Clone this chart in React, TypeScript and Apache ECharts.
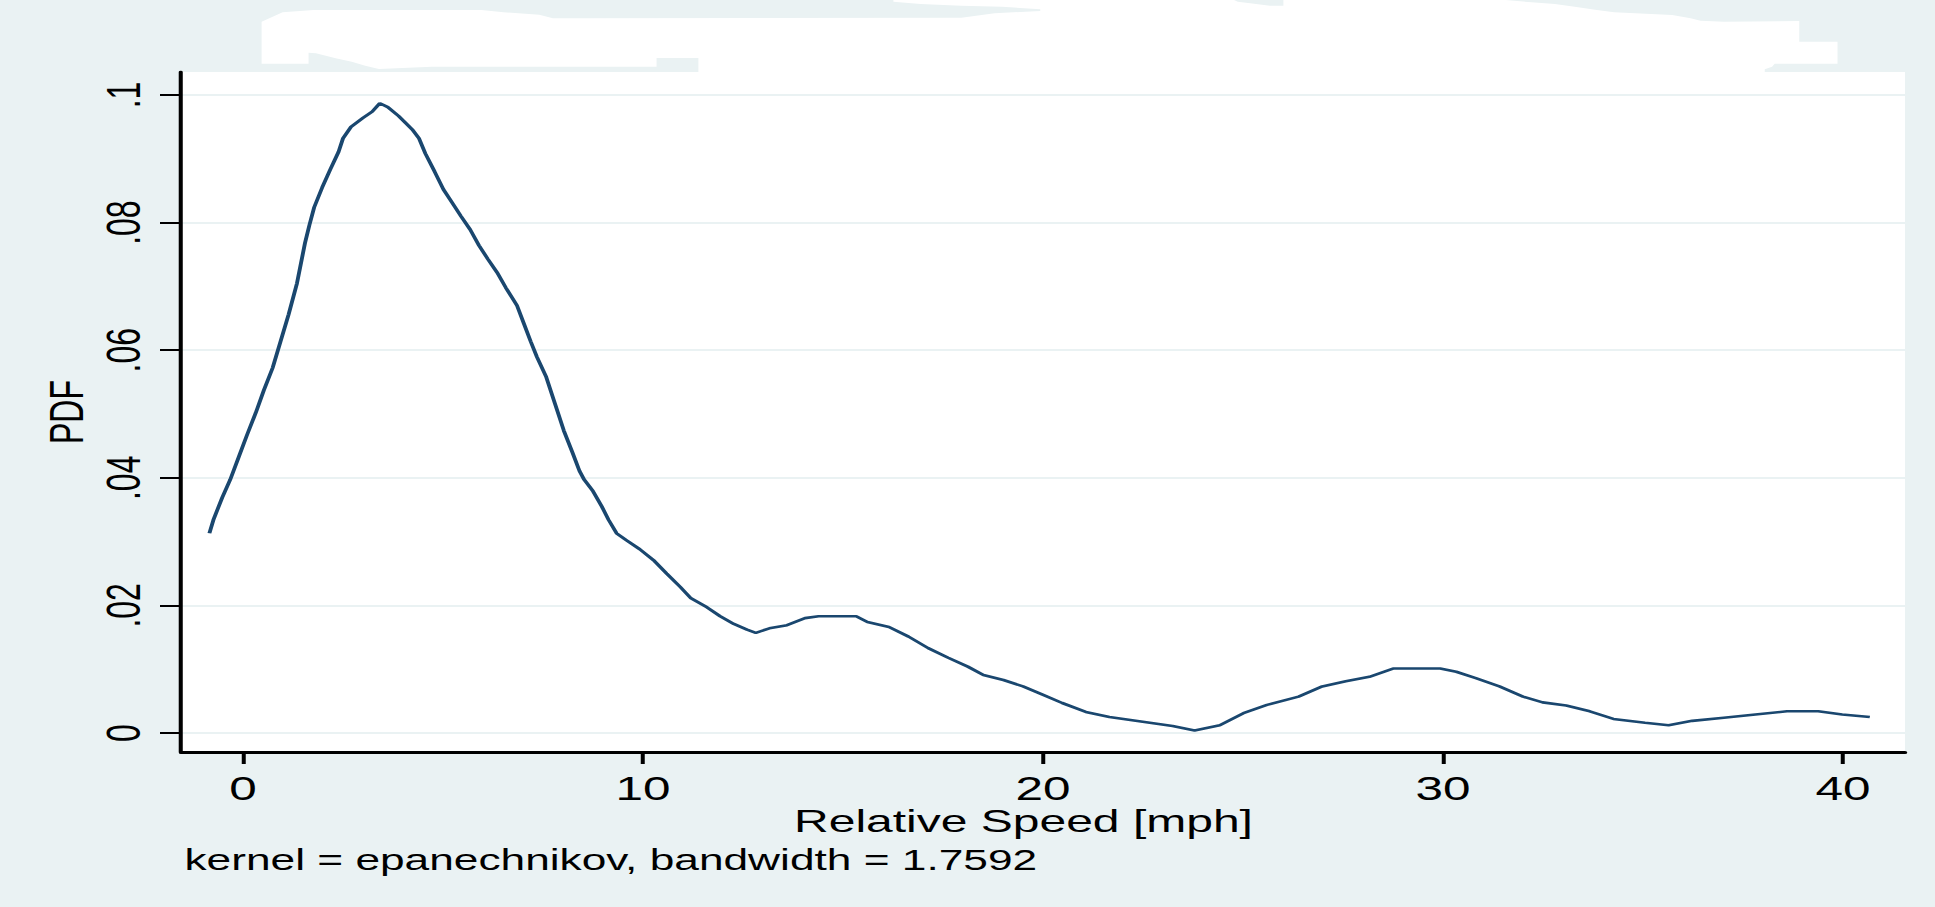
import React, { useEffect, useRef } from 'react';
import * as echarts from 'echarts';

// ---- data ----
const SPEED = [-0.84, -0.74, -0.52, -0.32, -0.11, 0.10, 0.32, 0.52, 0.74, 0.94, 1.14, 1.35, 1.55, 1.66, 1.78, 1.98, 2.18, 2.39, 2.50, 2.70, 3.00, 3.23, 3.42, 3.62, 3.89, 4.23, 4.40, 4.56, 4.79, 5.01, 5.23, 5.45, 5.68, 5.90, 6.12, 6.35, 6.57, 6.85, 7.02, 7.19, 7.35, 7.58, 7.80, 8.02, 8.24, 8.41, 8.53, 8.75, 8.97, 9.14, 9.34, 9.59, 9.92, 10.26, 10.59, 10.93, 11.20, 11.60, 11.93, 12.27, 12.60, 12.82, 13.16, 13.60, 14.05, 14.39, 15.33, 15.61, 16.15, 16.64, 17.13, 17.63, 18.12, 18.51, 19.01, 19.50, 19.99, 20.48, 21.07, 21.66, 22.45, 23.24, 23.79, 24.42, 25.01, 25.60, 26.39, 26.98, 27.57, 28.16, 28.75, 29.93, 30.33, 30.82, 31.41, 32.00, 32.49, 33.08, 33.67, 34.26, 35.05, 35.64, 36.23, 37.02, 37.81, 38.60, 39.38, 39.98, 40.67];
const PDF_VALUES = [0.0313, 0.0334, 0.0369, 0.0397, 0.0432, 0.0467, 0.0502, 0.0537, 0.0572, 0.0614, 0.0656, 0.0705, 0.0768, 0.0796, 0.0824, 0.0855, 0.0883, 0.0911, 0.0932, 0.0950, 0.0964, 0.0974, 0.0987, 0.0981, 0.0967, 0.0946, 0.0932, 0.0908, 0.0880, 0.0852, 0.0831, 0.0810, 0.0789, 0.0764, 0.0743, 0.0722, 0.0698, 0.0670, 0.0642, 0.0614, 0.0589, 0.0558, 0.0516, 0.0474, 0.0439, 0.0411, 0.0397, 0.0379, 0.0355, 0.0334, 0.0313, 0.0302, 0.0288, 0.0271, 0.0250, 0.0229, 0.0211, 0.0197, 0.0183, 0.0171, 0.0162, 0.0157, 0.0164, 0.0169, 0.0180, 0.0183, 0.0183, 0.0174, 0.0166, 0.0151, 0.0133, 0.0118, 0.0104, 0.0091, 0.0083, 0.0073, 0.0060, 0.0047, 0.0033, 0.0025, 0.0018, 0.0011, 0.0004, 0.0012, 0.0031, 0.0044, 0.0057, 0.0073, 0.0081, 0.0088, 0.0101, 0.0101, 0.0096, 0.0086, 0.0073, 0.0057, 0.0048, 0.0043, 0.0034, 0.0022, 0.0016, 0.0012, 0.0019, 0.0024, 0.0029, 0.0034, 0.0034, 0.0029, 0.0025];
const X_TICKS = [0, 10, 20, 30, 40];
const Y_TICKS = [0, 0.02, 0.04, 0.06, 0.08, 0.1];
const X_TITLE = 'Relative Speed [mph]';
const Y_TITLE = 'PDF';
const NOTE = 'kernel = epanechnikov, bandwidth = 1.7592';

// ---- layout / style ----
const K = 1.5; // horizontal stretch of the reference
const W = 1935;
const H = 907;
const CW = W / K;
const BG = '#EAF2F3';
const LINE = '#1A476F';
const FONT = '"Liberation Sans", Arial, sans-serif';

// erased-title white patch (decoration), chart coordinates
const PATCH: number[][] = [
  [174.4, 63.7], [174.4, 21.7], [188.4, 12.3], [209.0, 10], [320.9, 10], [335.7, 12.3], [359.5, 14.7], [368.6, 18.3],
  [387.5, 18.3], [640.9, 17.7], [663.1, 13.3], [693.5, 11], [693.5, 9.3], [668.0, 6.7], [640.9, 5.7], [613.7, 4],
  [595.6, 1.7], [595.6, 0], [822.7, 0], [825.2, 1.7], [833.4, 3.3], [846.6, 5.7], [855.6, 5.7], [855.6, 0],
  [1003.7, 0], [1021.0, 2.3], [1036.6, 4], [1049.8, 6.7], [1064.6, 10], [1076.1, 12.3], [1114.8, 15], [1127.1, 18.3],
  [1133.7, 20.7], [1149.3, 21.7], [1199.5, 21], [1199.5, 41.7], [1225.0, 41.7], [1225.0, 63.7], [1183.1, 63.7],
  [1181.4, 66.7], [1176.5, 69.3], [1176.5, 73], [465.6, 73], [465.6, 58], [437.7, 58], [437.7, 66.7], [287.9, 66.7],
  [252.6, 69], [243.5, 65.7], [234.5, 61.7], [223.8, 58.3], [210.6, 53.3], [205.7, 52.7], [205.7, 63.7],
];

const fmtY = (v: number) => (v === 0 ? '0' : String(+v.toFixed(2)).replace(/^0/, ''));

export default function App() {
  const ref = useRef<HTMLDivElement>(null);
  useEffect(() => {
    document.body.style.margin = '0';
    document.body.style.background = BG;
    document.body.style.overflow = 'hidden';
    const chart = echarts.init(ref.current!, null, { renderer: 'svg', width: CW, height: H });
    chart.setOption({
      animation: false,
      backgroundColor: BG,
      grid: {
        left: 181 / K,
        right: CW - 1905 / K,
        top: 72,
        bottom: H - 752,
        show: true,
        backgroundColor: '#fff',
        borderWidth: 0,
        containLabel: false,
        outerBoundsMode: 'none',
      },
      xAxis: {
        type: 'value',
        min: -1.55,
        max: 41.55,
        axisLine: { show: true, onZero: false, lineStyle: { color: '#000', width: 3 } },
        axisTick: { show: true, customValues: X_TICKS, length: 12, lineStyle: { color: '#000', width: 2.67 } },
        axisLabel: { show: true, customValues: X_TICKS, margin: 22, fontSize: 33, lineHeight: 30, color: '#000', fontFamily: FONT },
        splitLine: { show: false },
      },
      yAxis: {
        type: 'value',
        min: -0.00298,
        max: 0.1036,
        name: Y_TITLE,
        nameLocation: 'middle',
        nameRotate: 90,
        nameGap: 60,
        nameMoveOverlap: false,
        nameTextStyle: { fontSize: 32, color: '#000', fontFamily: FONT },
        axisLine: { show: true, onZero: false, lineStyle: { color: '#000', width: 2.7 } },
        axisTick: { show: true, customValues: Y_TICKS, length: 14, lineStyle: { color: '#000', width: 2 } },
        axisLabel: { show: true, customValues: Y_TICKS, rotate: 90, margin: 22, fontSize: 32, color: '#000', fontFamily: FONT, formatter: fmtY },
        splitLine: { show: true, lineStyle: { color: BG, width: 2 } },
      },
      graphic: [
        {
          type: 'polygon',
          silent: true,
          z: 0,
          shape: { points: PATCH },
          style: { fill: '#fff' },
        },
        {
          type: 'text',
          x: 1023.5 / K,
          y: 807,
          style: { text: X_TITLE, fill: '#000', font: `32px ${FONT}`, lineHeight: 28, align: 'center', verticalAlign: 'top', textAlign: 'center', textVerticalAlign: 'top' },
        },
        {
          type: 'text',
          x: 123,
          y: 845,
          style: { text: NOTE, fill: '#000', font: `29.5px ${FONT}`, align: 'left', verticalAlign: 'top', textAlign: 'left', textVerticalAlign: 'top' },
        },
      ],
      series: [
        {
          type: 'line',
          data: SPEED.map((x, i) => [x, PDF_VALUES[i]]),
          showSymbol: false,
          symbol: 'none',
          smooth: false,
          lineStyle: { color: LINE, width: 2.6 },
          clip: true,
        },
      ],
    });
    return () => chart.dispose();
  }, []);
  return (
    <div
      ref={ref}
      style={{ position: 'fixed', left: 0, top: 0, width: CW, height: H, transform: `scaleX(${K})`, transformOrigin: '0 0' }}
    />
  );
}
